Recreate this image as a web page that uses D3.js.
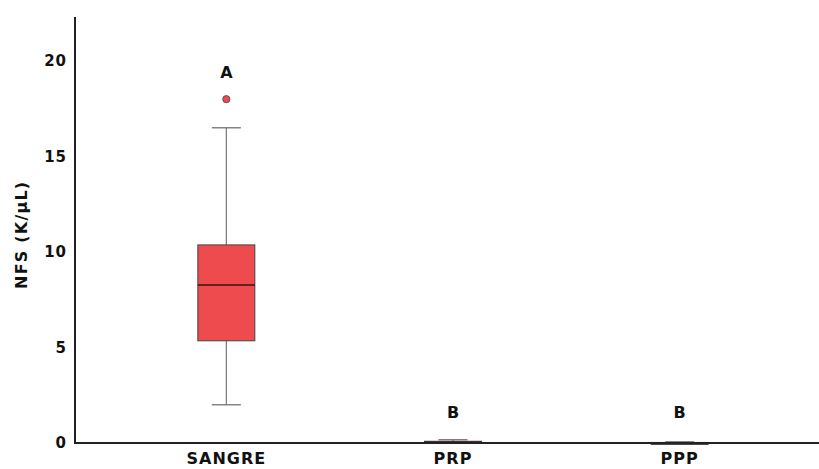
<!DOCTYPE html>
<html>
<head>
    <meta charset="utf-8">
    <title>NFS boxplot</title>
    <style>
        body { margin: 0; background: #fff; }
        text { font-family: "DejaVu Sans", sans-serif; font-weight: bold; fill: #111; }
    </style>
</head>
<body>
    <script src="https://d3js.org/d3.v7.min.js"></script>
    <script>
        const width = 819;
        const height = 469;

        // data
        const categories = ["SANGRE", "PRP", "PPP"];
        const whiskerLow = [2.0, 0.0, 0.0];
        const q1 = [5.35, 0.02, 0.0];
        const median = [8.27, 0.05, 0.01];
        const q3 = [10.37, 0.09, 0.03];
        const whiskerHigh = [16.5, 0.17, 0.06];
        const outliers = [[18.0], [], []];
        const letters = ["A", "B", "B"];
        const boxColors = ["#ee4b4f", "#4a2162", "#2d2d2d"];
        const yTicks = [0, 5, 10, 15, 20];

        const margin = {left: 75, top: 17, bottom: 26};

        const svg = d3.select("body").append("svg")
            .attr("width", width)
            .attr("height", height);

        const x = d3.scaleBand()
            .domain(categories)
            .range([113, 793]);

        const y = d3.scaleLinear()
            .domain([0, 22.3])
            .range([height - margin.bottom, margin.top]);

        const boxW = 57;
        const capW = 29;

        const rows = categories.map((c, i) => ({
            cat: c, lo: whiskerLow[i], q1: q1[i], med: median[i], q3: q3[i],
            hi: whiskerHigh[i], out: outliers[i], letter: letters[i], color: boxColors[i]
        }));

        const g = svg.append("g").selectAll("g")
            .data(rows)
            .enter().append("g")
            .attr("transform", d => `translate(${x(d.cat) + x.bandwidth() / 2},0)`);

        // whisker stems
        g.append("line")
            .attr("y1", d => y(d.lo)).attr("y2", d => y(d.hi))
            .attr("stroke", "#777").attr("stroke-width", 1.2);

        // caps
        g.selectAll(".cap")
            .data(d => [d.lo, d.hi])
            .enter().append("line")
            .attr("x1", -capW / 2).attr("x2", capW / 2)
            .attr("y1", v => y(v)).attr("y2", v => y(v))
            .attr("stroke", "#666").attr("stroke-width", 1.2);

        // boxes
        g.append("rect")
            .attr("x", -boxW / 2)
            .attr("width", boxW)
            .attr("y", d => y(d.q3))
            .attr("height", d => Math.max(2, y(d.q1) - y(d.q3)))
            .attr("fill", d => d.color)
            .attr("stroke", "#444").attr("stroke-width", 1);

        // median
        g.append("line")
            .attr("x1", -boxW / 2).attr("x2", boxW / 2)
            .attr("y1", d => y(d.med)).attr("y2", d => y(d.med))
            .attr("stroke", "#3a1010").attr("stroke-width", 1.3);

        // outliers
        g.selectAll(".out")
            .data(d => d.out.map(v => ({v, color: d.color})))
            .enter().append("circle")
            .attr("cy", o => y(o.v))
            .attr("r", 3.6)
            .attr("fill", o => o.color)
            .attr("stroke", "#444").attr("stroke-width", 0.8);

        // significance letters
        g.append("text")
            .attr("text-anchor", "middle")
            .attr("y", d => Math.min((d.out.length ? y(d3.max(d.out)) : y(d.hi)) - 21, y(0) - 25))
            .attr("font-size", 16)
            .text(d => d.letter);

        // axes
        const axisY = svg.append("g")
            .attr("transform", `translate(${margin.left},0)`)
            .call(d3.axisLeft(y).tickValues(yTicks).tickSize(0).tickPadding(8));
        axisY.select(".domain").remove();
        axisY.selectAll("text").attr("font-size", 15).attr("letter-spacing", 1)
            .attr("font-family", "DejaVu Sans").attr("fill", "#111");

        svg.append("line")
            .attr("x1", margin.left).attr("x2", margin.left)
            .attr("y1", margin.top).attr("y2", y(0) + 1)
            .attr("stroke", "#222").attr("stroke-width", 2);

        const axisX = svg.append("g")
            .attr("transform", `translate(0,${y(0)})`)
            .call(d3.axisBottom(x).tickSize(0).tickPadding(10));
        axisX.select(".domain").remove();
        axisX.selectAll("text").attr("font-size", 16).attr("letter-spacing", 1)
            .attr("font-family", "DejaVu Sans").attr("fill", "#111");

        svg.append("line")
            .attr("x1", margin.left - 1).attr("x2", width)
            .attr("y1", y(0)).attr("y2", y(0))
            .attr("stroke", "#222").attr("stroke-width", 2);

        svg.append("text")
            .attr("transform", `translate(27,${y(10.9)}) rotate(-90)`)
            .attr("text-anchor", "middle")
            .attr("font-size", 16)
            .attr("letter-spacing", 1.2)
            .text("NFS (K/µL)");
    </script>
</body>
</html>
